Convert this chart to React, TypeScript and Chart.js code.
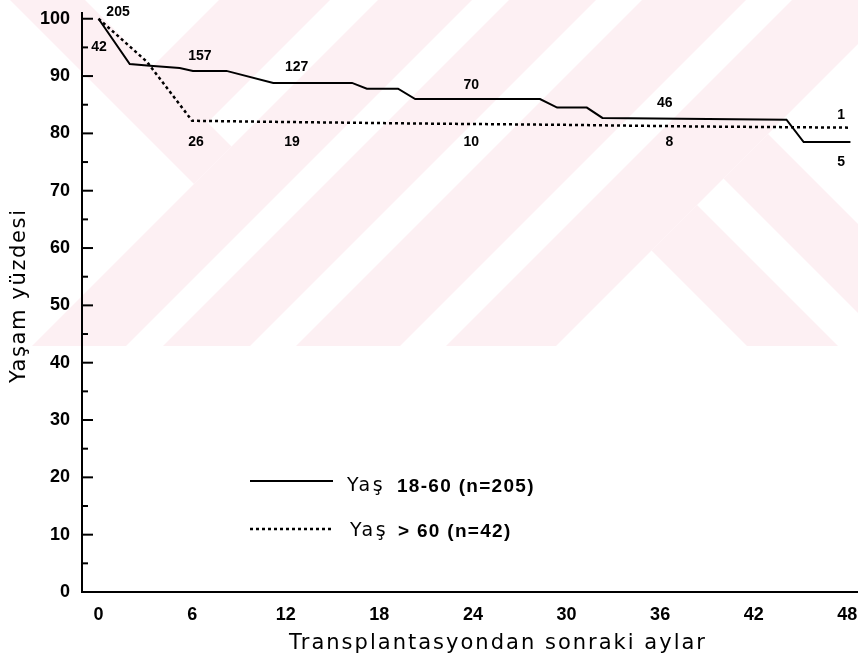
import React, { useEffect, useRef } from "react";
import { Chart, registerables } from "chart.js";

Chart.register(...registerables);

// ---- Data ----
const months18to60 = [0, 2.0, 3.3, 5.2, 6.05, 8.2, 11.2, 16.25, 17.2, 19.2, 20.3, 28.3, 29.4, 31.3, 32.3, 44.1, 45.2, 48.2];
const survival18to60 = [100, 92.1, 91.8, 91.4, 90.9, 90.9, 88.8, 88.8, 87.8, 87.8, 86.0, 86.0, 84.5, 84.5, 82.7, 82.4, 78.5, 78.5];

const monthsOver60 = [0, 3.1, 6.0, 11.6, 21.25, 29.6, 38.5, 48.2];
const survivalOver60 = [100, 92.5, 82.2, 82.0, 81.7, 81.5, 81.2, 81.0];

const xTicks = [0, 6, 12, 18, 24, 30, 36, 42, 48];
const yTicks = [0, 10, 20, 30, 40, 50, 60, 70, 80, 90, 100];
const yMinorTicks = [5, 15, 25, 35, 45, 55, 65, 75, 85, 95];

// numbers at risk (text, month, survival %) as placed in the figure
const atRiskTexts18to60 = ["205", "157", "127", "70", "46", "5"];
const atRiskMonths18to60 = [1.25, 6.5, 12.7, 23.9, 36.3, 47.6];
const atRiskValues18to60 = [101.2, 93.4, 91.6, 88.5, 85.2, 75.0];

const atRiskTextsOver60 = ["42", "26", "19", "10", "8", "1"];
const atRiskMonthsOver60 = [0.03, 6.25, 12.4, 23.9, 36.6, 47.6];
const atRiskValuesOver60 = [95.0, 78.5, 78.5, 78.5, 78.4, 83.2];

const legendPrefix = "Yaş";
const legendLabels = ["18-60 (n=205)", "> 60 (n=42)"];
const xTitle = "Transplantasyondan sonraki aylar";
const yTitle = "Yaşam yüzdesi";

// ---- Layout / style constants ----
const W = 858;
const H = 658;
const BOLD = '"Liberation Sans", Arial, Helvetica, sans-serif';
const ROUND = '"DejaVu Sans", "Noto Sans", sans-serif';
const PINK = "#fdf0f3";
const WM_BOTTOM = 346;

function bandPath(ctx: CanvasRenderingContext2D, kind: "/" | "\\", a: number, b: number) {
  const h = WM_BOTTOM;
  ctx.beginPath();
  if (kind === "/") {
    ctx.moveTo(a, 0);
    ctx.lineTo(b, 0);
    ctx.lineTo(b - h, h);
    ctx.lineTo(a - h, h);
  } else {
    ctx.moveTo(a, 0);
    ctx.lineTo(b, 0);
    ctx.lineTo(b + h, h);
    ctx.lineTo(a + h, h);
  }
  ctx.closePath();
  ctx.fill();
}

function clipPoly(ctx: CanvasRenderingContext2D, pts: number[][]) {
  ctx.beginPath();
  ctx.moveTo(pts[0][0], pts[0][1]);
  for (let i = 1; i < pts.length; i++) ctx.lineTo(pts[i][0], pts[i][1]);
  ctx.closePath();
  ctx.clip();
}

function drawWatermark(ctx: CanvasRenderingContext2D) {
  ctx.save();
  ctx.beginPath();
  ctx.rect(0, 0, W, WM_BOTTOM);
  ctx.clip();
  ctx.fillStyle = PINK;
  // "/" bands
  bandPath(ctx, "/", 378, 472);
  bandPath(ctx, "/", 509, 596);
  bandPath(ctx, "/", 642, 746);
  bandPath(ctx, "/", 792, 902);
  // left X arm
  ctx.save();
  clipPoly(ctx, [[0, 0], [378, 0], [32, WM_BOTTOM], [0, WM_BOTTOM]]);
  bandPath(ctx, "\\", 10, 85);
  ctx.restore();
  ctx.save();
  clipPoly(ctx, [[25, 0], [2000, 0], [2000, WM_BOTTOM], [25 + WM_BOTTOM, WM_BOTTOM]]);
  bandPath(ctx, "/", 219, 330);
  ctx.restore();
  // right chevrons
  ctx.save();
  clipPoly(ctx, [[902, 0], [2000, 0], [2000, WM_BOTTOM], [902 - WM_BOTTOM, WM_BOTTOM]]);
  bandPath(ctx, "\\", 401, 492);
  bandPath(ctx, "\\", 545, 634);
  ctx.restore();
  ctx.restore();
}

function spacedText(ctx: CanvasRenderingContext2D, text: string, x: number, y: number, spacing: number) {
  (ctx as any).letterSpacing = `${spacing}px`;
  ctx.fillText(text, x, y);
  (ctx as any).letterSpacing = "0px";
}

function fitSpacing(ctx: CanvasRenderingContext2D, text: string, target: number) {
  (ctx as any).letterSpacing = "0px";
  const w0 = ctx.measureText(text).width;
  return (target - w0) / Math.max(1, text.length - 1);
}

export default function App() {
  const ref = useRef<HTMLCanvasElement>(null);

  useEffect(() => {
    const canvas = ref.current;
    if (!canvas) return;

    const decor = {
      id: "decor",
      beforeDraw(chart: any) {
        const ctx: CanvasRenderingContext2D = chart.ctx;
        ctx.save();
        ctx.fillStyle = "#ffffff";
        ctx.fillRect(0, 0, chart.width, chart.height);
        drawWatermark(ctx);
        ctx.restore();
      },
      afterDraw(chart: any) {
        const ctx: CanvasRenderingContext2D = chart.ctx;
        const xs = chart.scales.x;
        const ys = chart.scales.y;
        const area = chart.chartArea;
        ctx.save();
        ctx.strokeStyle = "#000";
        ctx.fillStyle = "#000";
        ctx.lineWidth = 2;
        // inward y tick marks
        for (const v of yTicks) {
          const py = ys.getPixelForValue(v);
          ctx.beginPath();
          ctx.moveTo(area.left, py);
          ctx.lineTo(area.left + 11, py);
          ctx.stroke();
        }
        for (const v of yMinorTicks) {
          const py = ys.getPixelForValue(v);
          ctx.beginPath();
          ctx.moveTo(area.left, py);
          ctx.lineTo(area.left + 6, py);
          ctx.stroke();
        }
        // numbers at risk
        ctx.font = `bold 14px ${BOLD}`;
        ctx.textAlign = "center";
        ctx.textBaseline = "middle";
        atRiskTexts18to60.forEach((t, i) => {
          ctx.fillText(t, xs.getPixelForValue(atRiskMonths18to60[i]), ys.getPixelForValue(atRiskValues18to60[i]));
        });
        atRiskTextsOver60.forEach((t, i) => {
          ctx.fillText(t, xs.getPixelForValue(atRiskMonthsOver60[i]), ys.getPixelForValue(atRiskValuesOver60[i]));
        });

        // legend (inside plot)
        const legRows = [
          { lineY: 481, base: 492, dash: [] as number[], prefixX: 347, labelX: 397 },
          { lineY: 529, base: 537, dash: [3, 3], prefixX: 350, labelX: 398 },
        ];
        ctx.textAlign = "left";
        ctx.textBaseline = "alphabetic";
        legRows.forEach((r, i) => {
          ctx.setLineDash(r.dash);
          ctx.lineWidth = r.dash.length ? 2.5 : 2;
          ctx.beginPath();
          ctx.moveTo(250, r.lineY);
          ctx.lineTo(333, r.lineY);
          ctx.stroke();
          ctx.setLineDash([]);
          ctx.font = `19px ${ROUND}`;
          spacedText(ctx, legendPrefix, r.prefixX, r.base - 1, 2.5);
          ctx.font = `bold 19px ${BOLD}`;
          spacedText(ctx, legendLabels[i], r.labelX, r.base, 1.3);
        });

        // axis titles
        ctx.font = `21px ${ROUND}`;
        const sx = fitSpacing(ctx, xTitle, 416);
        spacedText(ctx, xTitle, 289, 649, sx);
        const sy = fitSpacing(ctx, yTitle, 173);
        ctx.save();
        ctx.translate(25, 383);
        ctx.rotate(-Math.PI / 2);
        spacedText(ctx, yTitle, 0, 0, sy);
        ctx.restore();
        ctx.restore();
      },
    };

    const chart = new Chart(canvas, {
      type: "line",
      data: {
        datasets: [
          {
            label: "Yaş 18-60 (n=205)",
            data: months18to60.map((m, i) => ({ x: m, y: survival18to60[i] })),
            borderColor: "#000",
            borderWidth: 2,
            pointRadius: 0,
            tension: 0,
            fill: false,
          },
          {
            label: "Yaş > 60 (n=42)",
            data: monthsOver60.map((m, i) => ({ x: m, y: survivalOver60[i] })),
            borderColor: "#000",
            borderWidth: 2.5,
            borderDash: [3, 3],
            pointRadius: 0,
            tension: 0,
            fill: false,
          },
        ],
      },
      options: {
        responsive: false,
        animation: false,
        devicePixelRatio: 1,
        layout: { padding: { left: 0, right: 1, top: 13, bottom: 0 } },
        plugins: {
          legend: { display: false },
          tooltip: { enabled: false },
          title: { display: false },
        },
        scales: {
          x: {
            type: "linear",
            min: -1.06,
            max: 48.62,
            afterBuildTicks: (s: any) => {
              s.ticks = xTicks.map((v) => ({ value: v }));
            },
            afterFit: (s: any) => {
              s.height = 66;
              s.paddingLeft = 0;
              s.paddingRight = 0;
            },
            grid: { display: false, drawTicks: false },
            border: { display: true, color: "#000", width: 2 },
            ticks: {
              color: "#000",
              padding: 12,
              autoSkip: false,
              maxRotation: 0,
              font: { family: BOLD, weight: "bold", size: 18 },
              callback: (v: any) => String(v),
            },
          },
          y: {
            type: "linear",
            min: 0,
            max: 101,
            afterBuildTicks: (s: any) => {
              s.ticks = yTicks.map((v) => ({ value: v }));
            },
            afterFit: (s: any) => {
              s.width = 82;
              s.paddingTop = 0;
              s.paddingBottom = 0;
            },
            grid: { display: false, drawTicks: false },
            border: { display: true, color: "#000", width: 2 },
            ticks: {
              color: "#000",
              padding: 12,
              autoSkip: false,
              font: { family: BOLD, weight: "bold", size: 18 },
              callback: (v: any) => String(v),
            },
          },
        },
      },
      plugins: [decor],
    } as any);

    return () => chart.destroy();
  }, []);

  return (
    <div style={{ position: "absolute", left: 0, top: 0, width: W, height: H, background: "#fff" }}>
      <canvas ref={ref} width={W} height={H} style={{ display: "block", width: W, height: H }} />
    </div>
  );
}
